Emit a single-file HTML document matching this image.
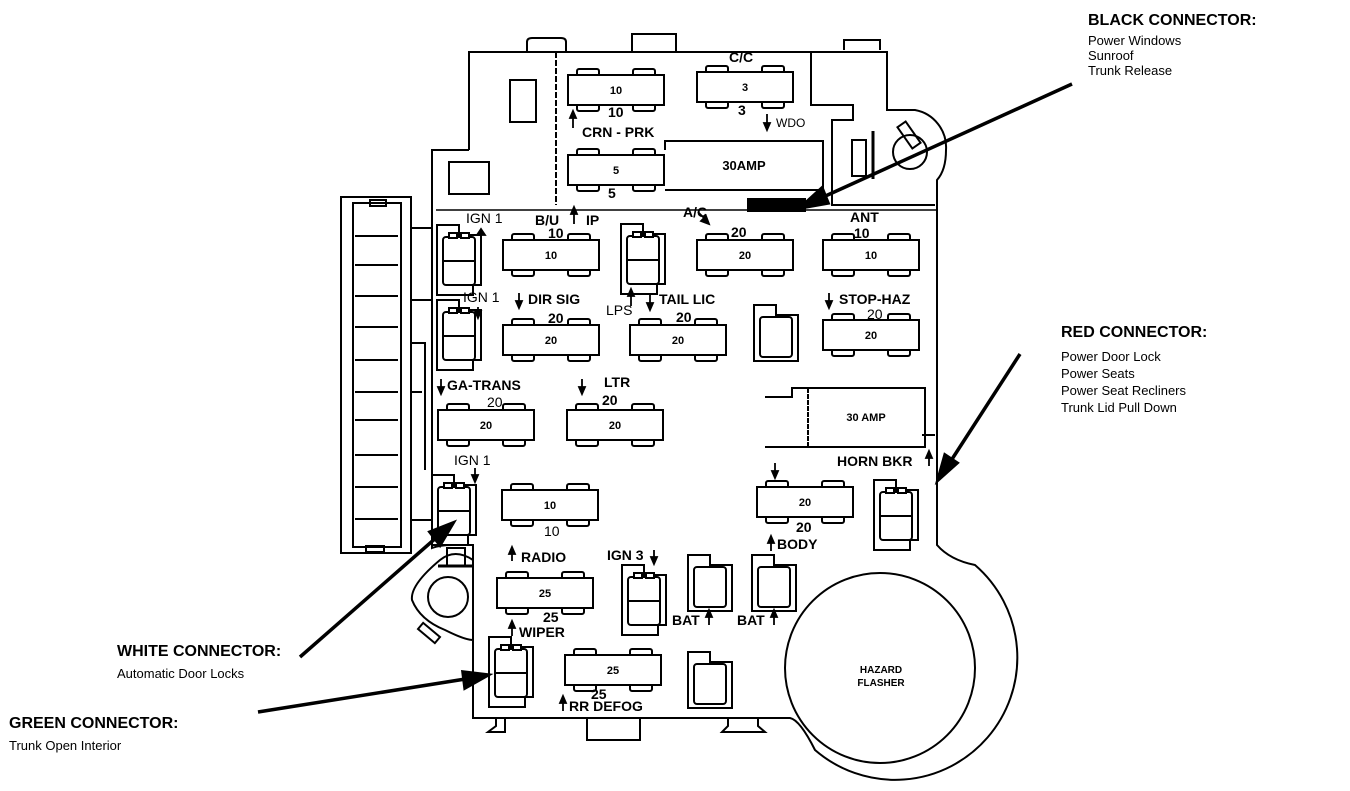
<!DOCTYPE html>
<html><head><meta charset="utf-8"><style>
html,body{margin:0;padding:0;background:#fff;}
svg{display:block;}
text{font-family:"Liberation Sans",sans-serif;fill:#000;}
.b{font-weight:bold;}
</style></head><body>
<svg width="1350" height="791" viewBox="0 0 1350 791" xmlns="http://www.w3.org/2000/svg">
<defs>
<g id="fuse" stroke="#000" stroke-width="2" fill="#fff">
<rect x="9" y="-6" width="22" height="8" rx="2"/>
<rect x="65" y="-6" width="22" height="8" rx="2"/>
<rect x="9" y="28" width="22" height="8" rx="2"/>
<rect x="65" y="28" width="22" height="8" rx="2"/>
<rect x="0" y="0" width="96" height="30"/>
</g>
<g id="conn" stroke="#000" stroke-width="2" fill="#fff">
<path d="M0,0 H22 V10 H44 V60 H36 V70 H0 Z"/>
<rect x="6" y="12" width="32" height="48" rx="3"/>
<line x1="6" y1="36" x2="38" y2="36"/>
<rect x="12" y="8" width="8" height="5"/>
<rect x="24" y="8" width="8" height="5"/>
</g>
<g id="conn2" stroke="#000" stroke-width="2" fill="#fff">
<path d="M0,0 H22 V10 H44 V56 H0 Z"/>
<rect x="6" y="12" width="32" height="40" rx="3"/>
</g>
</defs>

<g fill="none" stroke="#000" stroke-width="2">
<path d="M527,52 L527,42 Q527,38 532,38 L561,38 Q566,38 566,42 L566,52"/>
<rect x="632" y="34" width="44" height="18"/>
<path d="M844,50 L844,40 L880,40 L880,50"/>
<path d="M469,150 V52 H887 V110 H915 A38,38 0 0 1 946,150 Q946,170 937,180 V545 Q950,560 975,565 A108,108 0 1 1 815,750 Q800,720 790,718 H473 V560 Q455,548 440,560 Q410,585 412,600 Q420,620 445,630 Q465,640 473,640"/>
<path d="M469,150 H432 V548 Q440,545 452,545 H473 V560"/>
<path d="M496,718 L496,726 L488,732 L505,732 L505,718"/>
<path d="M587,718 V740 H640 V718"/>
<path d="M728,718 V726 L722,732 L765,732 L758,726 V718"/>
<path d="M556,52 V205" stroke-dasharray="6,2"/>
<path d="M436,210 H936" stroke-width="1.5"/>
<path d="M811,52 V105 H853 V120 H832 V205 H935"/>
<rect x="510" y="80" width="26" height="42"/>
<rect x="449" y="162" width="40" height="32"/>
<circle cx="910" cy="152" r="17"/>
<rect x="904" y="122" width="10" height="26" transform="rotate(-35 909 135)"/>
<rect x="852" y="140" width="14" height="36"/>
<path d="M873,131 V179" stroke-width="3"/>
<path d="M665,150 V141 H823 V190 H665"/>
<rect x="748" y="199" width="57" height="12" fill="#000"/>
<path d="M765,397 H792 V388 H925 V447 H765"/>
<path d="M808,388 V447" stroke-dasharray="5,1"/>
<path d="M922,435 H935"/>
<rect x="341" y="197" width="70" height="356"/>
<rect x="353" y="203" width="48" height="344"/>
<path d="M355,236 H398 M355,265 H398 M355,296 H398 M355,327 H398 M355,360 H398 M355,392 H398 M355,420 H398 M355,455 H398 M355,487 H398 M355,519 H398"/>
<rect x="370" y="200" width="16" height="6"/>
<rect x="366" y="546" width="18" height="6"/>
<path d="M411,228 H432 M411,300 H432 M411,343 H425 V470 M411,392 H422 M411,520 H432"/>
<circle cx="448" cy="597" r="20"/>
<rect x="447" y="548" width="18" height="18"/>
<path d="M438,566 H474" stroke-width="3"/>
<rect x="425" y="622" width="8" height="22" transform="rotate(-50 429 633)"/>
<circle cx="880" cy="668" r="95"/>
</g>

<use href="#fuse" x="568" y="75"/>
<use href="#fuse" x="697" y="72"/>
<use href="#fuse" x="568" y="155"/>
<use href="#fuse" x="503" y="240"/>
<use href="#fuse" x="697" y="240"/>
<use href="#fuse" x="823" y="240"/>
<use href="#fuse" x="503" y="325"/>
<use href="#fuse" x="630" y="325"/>
<use href="#fuse" x="823" y="320"/>
<use href="#fuse" x="438" y="410"/>
<use href="#fuse" x="567" y="410"/>
<use href="#fuse" x="502" y="490"/>
<use href="#fuse" x="757" y="487"/>
<use href="#fuse" x="497" y="578"/>
<use href="#fuse" x="565" y="655"/>

<use href="#conn" x="437" y="225"/>
<use href="#conn" x="437" y="300"/>
<use href="#conn" x="432" y="475"/>
<use href="#conn" x="621" y="224"/>
<use href="#conn" x="874" y="480"/>
<use href="#conn" x="622" y="565"/>
<use href="#conn" x="489" y="637"/>
<use href="#conn2" x="754" y="305"/>
<use href="#conn2" x="688" y="555"/>
<use href="#conn2" x="752" y="555"/>
<use href="#conn2" x="688" y="652"/>

<g class="b" font-size="11" text-anchor="middle">
<text x="616" y="94">10</text><text x="745" y="91">3</text><text x="616" y="174">5</text>
<text x="551" y="259">10</text><text x="745" y="259">20</text><text x="871" y="259">10</text>
<text x="551" y="344">20</text><text x="678" y="344">20</text><text x="871" y="339">20</text>
<text x="486" y="429">20</text><text x="615" y="429">20</text>
<text x="550" y="509">10</text><text x="805" y="506">20</text>
<text x="545" y="597">25</text><text x="613" y="674">25</text>
<text x="744" y="170" font-size="13">30AMP</text>
<text x="866" y="421">30 AMP</text>
<text x="881" y="673" font-size="10">HAZARD</text>
<text x="881" y="686" font-size="10">FLASHER</text>
</g>

<g class="b" font-size="14">
<text x="608" y="117">10</text><text x="738" y="115">3</text><text x="729" y="62">C/C</text>
<text x="582" y="137">CRN - PRK</text>
<text x="776" y="127" font-weight="normal" font-size="12">WDO</text>
<text x="608" y="198">5</text>
<text x="466" y="223" font-weight="normal">IGN 1</text>
<text x="535" y="225">B/U</text><text x="586" y="225">IP</text>
<text x="548" y="238">10</text>
<text x="683" y="217">A/C</text>
<text x="731" y="237">20</text>
<text x="850" y="222">ANT</text><text x="854" y="238">10</text>
<text x="463" y="302" font-weight="normal">IGN 1</text>
<text x="528" y="304">DIR SIG</text>
<text x="548" y="323">20</text>
<text x="606" y="315" font-weight="normal">LPS</text>
<text x="659" y="304">TAIL LIC</text>
<text x="676" y="322">20</text>
<text x="839" y="304">STOP-HAZ</text>
<text x="867" y="319" font-weight="normal">20</text>
<text x="447" y="390">GA-TRANS</text>
<text x="487" y="407" font-weight="normal">20</text>
<text x="604" y="387">LTR</text><text x="602" y="405">20</text>
<text x="454" y="465" font-weight="normal">IGN 1</text>
<text x="544" y="536" font-weight="normal">10</text>
<text x="837" y="466">HORN BKR</text>
<text x="796" y="532">20</text>
<text x="777" y="549">BODY</text>
<text x="521" y="562">RADIO</text>
<text x="607" y="560">IGN 3</text>
<text x="543" y="622">25</text>
<text x="519" y="637">WIPER</text>
<text x="672" y="625">BAT</text><text x="737" y="625">BAT</text>
<text x="591" y="699">25</text>
<text x="569" y="711">RR DEFOG</text>
</g>

<g stroke="#000" stroke-width="1.8" fill="#000">
<path d="M573,128 V114"/><path d="M573,111 L570,118 H576 Z"/>
<path d="M767,114 V126"/><path d="M767,130 L764,123 H770 Z"/>
<path d="M574,224 V210"/><path d="M574,207 L571,214 H577 Z"/>
<path d="M698,212 L706,220"/><path d="M709,224 L701,221 L706,216 Z"/>
<path d="M481,229 L477,235 H485 Z"/>
<path d="M519,293 V304"/><path d="M519,308 L516,301 H522 Z"/>
<path d="M478,307 V313"/><path d="M478,318 L475,311 H481 Z"/>
<path d="M631,306 V292"/><path d="M631,289 L628,296 H634 Z"/>
<path d="M650,293 V306"/><path d="M650,310 L647,303 H653 Z"/>
<path d="M829,293 V304"/><path d="M829,308 L826,301 H832 Z"/>
<path d="M441,379 V390"/><path d="M441,394 L438,387 H444 Z"/>
<path d="M582,379 V390"/><path d="M582,394 L579,387 H585 Z"/>
<path d="M475,468 V478"/><path d="M475,482 L472,475 H478 Z"/>
<path d="M929,466 V455"/><path d="M929,451 L926,458 H932 Z"/>
<path d="M775,463 V474"/><path d="M775,478 L772,471 H778 Z"/>
<path d="M771,551 V540"/><path d="M771,536 L768,543 H774 Z"/>
<path d="M512,561 V551"/><path d="M512,547 L509,554 H515 Z"/>
<path d="M654,550 V560"/><path d="M654,564 L651,557 H657 Z"/>
<path d="M512,636 V625"/><path d="M512,621 L509,628 H515 Z"/>
<path d="M709,625 V614"/><path d="M709,610 L706,617 H712 Z"/>
<path d="M774,625 V614"/><path d="M774,610 L771,617 H777 Z"/>
<path d="M563,711 V700"/><path d="M563,696 L560,703 H566 Z"/>
</g>

<g stroke="#000" stroke-width="3.5" fill="#000">
<line x1="1072" y1="84" x2="810" y2="203"/><path d="M800,208 L822,188 L828,203 Z"/>
<line x1="1020" y1="354" x2="945" y2="470"/><path d="M938,480 L945,455 L957,463 Z"/>
<line x1="300" y1="657" x2="445" y2="530"/><path d="M453,523 L440,545 L430,532 Z"/>
<line x1="258" y1="712" x2="478" y2="677"/><path d="M488,675 L465,688 L463,672 Z"/>
</g>

<text x="1088" y="25" class="b" font-size="16">BLACK CONNECTOR:</text>
<text x="1088" y="45" font-size="13">Power Windows</text>
<text x="1088" y="60" font-size="13">Sunroof</text>
<text x="1088" y="75" font-size="13">Trunk Release</text>
<text x="1061" y="337" class="b" font-size="16">RED CONNECTOR:</text>
<text x="1061" y="361" font-size="13">Power Door Lock</text>
<text x="1061" y="378" font-size="13">Power Seats</text>
<text x="1061" y="395" font-size="13">Power Seat Recliners</text>
<text x="1061" y="412" font-size="13">Trunk Lid Pull Down</text>
<text x="117" y="656" class="b" font-size="16">WHITE CONNECTOR:</text>
<text x="117" y="678" font-size="13">Automatic Door Locks</text>
<text x="9" y="728" class="b" font-size="16">GREEN CONNECTOR:</text>
<text x="9" y="750" font-size="13">Trunk Open Interior</text>
</svg>
</body></html>
